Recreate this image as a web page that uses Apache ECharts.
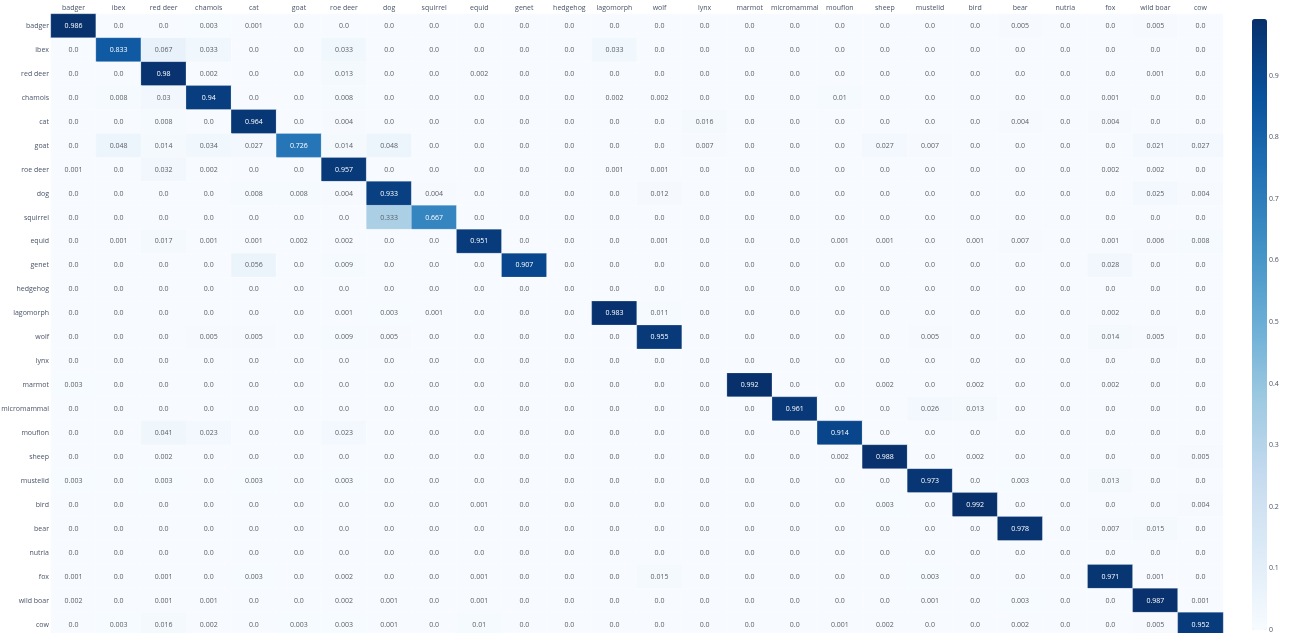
<!DOCTYPE html>
<html>
<head>
<meta charset="utf-8">
<script src="https://cdn.jsdelivr.net/npm/echarts@6/dist/echarts.min.js"></script>
<style>
html,body{margin:0;padding:0;background:#fff;}
#chart{width:1291px;height:633px;}
</style>
</head>
<body>
<div id="chart"></div>
<script>
const categories = ["badger","ibex","red deer","chamois","cat","goat","roe deer","dog","squirrel","equid","genet","hedgehog","lagomorph","wolf","lynx","marmot","micromammal","mouflon","sheep","mustelid","bird","bear","nutria","fox","wild boar","cow"];

// rows = true class, columns = predicted class (same order as categories)
const row_badger      = [0.986,0,0,0.003,0.001,0,0,0,0,0,0,0,0,0,0,0,0,0,0,0,0,0.005,0,0,0.005,0];
const row_ibex        = [0,0.833,0.067,0.033,0,0,0.033,0,0,0,0,0,0.033,0,0,0,0,0,0,0,0,0,0,0,0,0];
const row_reddeer     = [0,0,0.98,0.002,0,0,0.013,0,0,0.002,0,0,0,0,0,0,0,0,0,0,0,0,0,0,0.001,0];
const row_chamois     = [0,0.008,0.03,0.94,0,0,0.008,0,0,0,0,0,0.002,0.002,0,0,0,0.01,0,0,0,0,0,0.001,0,0];
const row_cat         = [0,0,0.008,0,0.964,0,0.004,0,0,0,0,0,0,0,0.016,0,0,0,0,0,0,0.004,0,0.004,0,0];
const row_goat        = [0,0.048,0.014,0.034,0.027,0.726,0.014,0.048,0,0,0,0,0,0,0.007,0,0,0,0.027,0.007,0,0,0,0,0.021,0.027];
const row_roedeer     = [0.001,0,0.032,0.002,0,0,0.957,0,0,0,0,0,0.001,0.001,0,0,0,0,0,0,0,0,0,0.002,0.002,0];
const row_dog         = [0,0,0,0,0.008,0.008,0.004,0.933,0.004,0,0,0,0,0.012,0,0,0,0,0,0,0,0,0,0,0.025,0.004];
const row_squirrel    = [0,0,0,0,0,0,0,0.333,0.667,0,0,0,0,0,0,0,0,0,0,0,0,0,0,0,0,0];
const row_equid       = [0,0.001,0.017,0.001,0.001,0.002,0.002,0,0,0.951,0,0,0,0.001,0,0,0,0.001,0.001,0,0.001,0.007,0,0.001,0.006,0.008];
const row_genet       = [0,0,0,0,0.056,0,0.009,0,0,0,0.907,0,0,0,0,0,0,0,0,0,0,0,0,0.028,0,0];
const row_hedgehog    = [0,0,0,0,0,0,0,0,0,0,0,0,0,0,0,0,0,0,0,0,0,0,0,0,0,0];
const row_lagomorph   = [0,0,0,0,0,0,0.001,0.003,0.001,0,0,0,0.983,0.011,0,0,0,0,0,0,0,0,0,0.002,0,0];
const row_wolf        = [0,0,0,0.005,0.005,0,0.009,0.005,0,0,0,0,0,0.955,0,0,0,0,0,0.005,0,0,0,0.014,0.005,0];
const row_lynx        = [0,0,0,0,0,0,0,0,0,0,0,0,0,0,0,0,0,0,0,0,0,0,0,0,0,0];
const row_marmot      = [0.003,0,0,0,0,0,0,0,0,0,0,0,0,0,0,0.992,0,0,0.002,0,0.002,0,0,0.002,0,0];
const row_micromammal = [0,0,0,0,0,0,0,0,0,0,0,0,0,0,0,0,0.961,0,0,0.026,0.013,0,0,0,0,0];
const row_mouflon     = [0,0,0.041,0.023,0,0,0.023,0,0,0,0,0,0,0,0,0,0,0.914,0,0,0,0,0,0,0,0];
const row_sheep       = [0,0,0.002,0,0,0,0,0,0,0,0,0,0,0,0,0,0,0.002,0.988,0,0.002,0,0,0,0,0.005];
const row_mustelid    = [0.003,0,0.003,0,0.003,0,0.003,0,0,0,0,0,0,0,0,0,0,0,0,0.973,0,0.003,0,0.013,0,0];
const row_bird        = [0,0,0,0,0,0,0,0,0,0.001,0,0,0,0,0,0,0,0,0.003,0,0.992,0,0,0,0,0.004];
const row_bear        = [0,0,0,0,0,0,0,0,0,0,0,0,0,0,0,0,0,0,0,0,0,0.978,0,0.007,0.015,0];
const row_nutria      = [0,0,0,0,0,0,0,0,0,0,0,0,0,0,0,0,0,0,0,0,0,0,0,0,0,0];
const row_fox         = [0.001,0,0.001,0,0.003,0,0.002,0,0,0.001,0,0,0,0.015,0,0,0,0,0,0.003,0,0,0,0.971,0.001,0];
const row_wildboar    = [0.002,0,0.001,0.001,0,0,0.002,0.001,0,0.001,0,0,0,0,0,0,0,0,0,0.001,0,0.003,0,0,0.987,0.001];
const row_cow         = [0,0.003,0.016,0.002,0,0.003,0.003,0.001,0,0.01,0,0,0,0,0,0,0,0.001,0.002,0,0,0.002,0,0,0.005,0.952];

const rows = [row_badger,row_ibex,row_reddeer,row_chamois,row_cat,row_goat,row_roedeer,row_dog,row_squirrel,row_equid,row_genet,row_hedgehog,row_lagomorph,row_wolf,row_lynx,row_marmot,row_micromammal,row_mouflon,row_sheep,row_mustelid,row_bird,row_bear,row_nutria,row_fox,row_wildboar,row_cow];

const colorbarTicks = [0,0.1,0.2,0.3,0.4,0.5,0.6,0.7,0.8,0.9];
const blues = ['rgb(247,251,255)','rgb(222,235,247)','rgb(198,219,239)','rgb(158,202,225)','rgb(107,174,214)','rgb(66,146,198)','rgb(33,113,181)','rgb(8,81,156)','rgb(8,48,107)'];

let zmax = 0;
rows.forEach(r => r.forEach(v => { if (v > zmax) zmax = v; }));

const data = [];
rows.forEach((r, i) => {
  r.forEach((v, j) => {
    data.push({ value: [j, i, v], label: { color: v > 0.5 ? '#ffffff' : '#5b5f66' } });
  });
});

const fmt = v => (Number.isInteger(v) ? v.toFixed(1) : String(v));
const font = '"Open Sans", "DejaVu Sans", sans-serif';

const chart = echarts.init(document.getElementById('chart'), null, { renderer: 'canvas' });
chart.setOption({
  backgroundColor: '#ffffff',
  animation: false,
  grid: [
    { left: 51, top: 14, width: 1172, height: 622.5, containLabel: false, outerBoundsMode: 'none' },
    { left: 1252, top: 19, width: 15, height: 611, containLabel: false, outerBoundsMode: 'none' }
  ],
  xAxis: [
    {
      type: 'category', data: categories, position: 'top', gridIndex: 0,
      axisLine: { show: false }, axisTick: { show: false }, splitLine: { show: false },
      axisLabel: { fontSize: 7, color: '#4a5568', fontFamily: font, margin: 3, interval: 0 }
    },
    { type: 'value', gridIndex: 1, show: false, min: 0, max: 1 }
  ],
  yAxis: [
    {
      type: 'category', data: categories, inverse: true, gridIndex: 0,
      axisLine: { show: false }, axisTick: { show: false }, splitLine: { show: false },
      axisLabel: { fontSize: 7, color: '#4a5568', fontFamily: font, margin: 2, interval: 0 }
    },
    {
      type: 'value', gridIndex: 1, position: 'right', min: 0, max: zmax, interval: 0.1,
      axisLine: { show: false }, axisTick: { show: false }, splitLine: { show: false },
      axisLabel: {
        fontSize: 7, color: '#4a5568', fontFamily: font, margin: 2, showMaxLabel: false,
        formatter: v => (colorbarTicks.some(t => Math.abs(t - v) < 1e-9) ? String(Math.round(v * 10) / 10) : '')
      }
    }
  ],
  visualMap: {
    type: 'continuous', min: 0, max: zmax, calculable: false, seriesIndex: 0,
    left: 1252, top: 19, itemWidth: 15, itemHeight: 611, padding: 0,
    text: null, showLabel: false,
    inRange: { color: blues }
  },
  series: [{
    type: 'heatmap', xAxisIndex: 0, yAxisIndex: 0,
    data: data,
    itemStyle: { borderColor: 'rgba(255,255,255,0.35)', borderWidth: 0.6 },
    label: {
      show: true, fontSize: 7, fontFamily: font,
      formatter: p => fmt(p.value[2])
    },
    emphasis: { disabled: true }
  }]
});
</script>
</body>
</html>
